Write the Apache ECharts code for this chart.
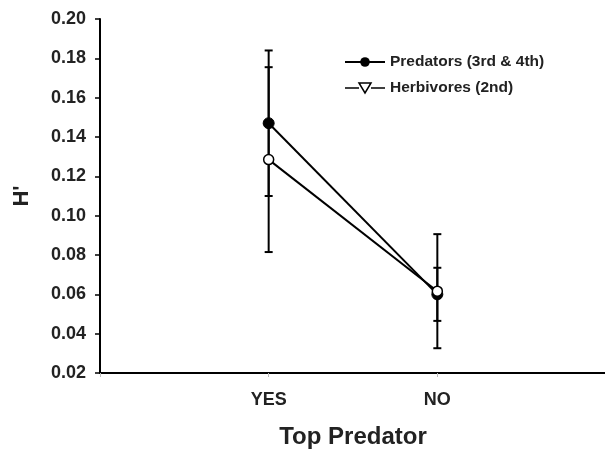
<!DOCTYPE html>
<html>
<head>
<meta charset="utf-8">
<script src="https://cdn.jsdelivr.net/npm/echarts@6/dist/echarts.min.js"></script>
<style>
  html, body { margin: 0; padding: 0; background: #fff; }
  #chart { width: 605px; height: 452px; }
</style>
</head>
<body>
<div id="chart"></div>
<script>
var categories = ['YES', 'NO'];
var yTicks = [0.02, 0.04, 0.06, 0.08, 0.10, 0.12, 0.14, 0.16, 0.18, 0.20];
var predatorMean = [0.147, 0.060];
var predatorErr = [0.037, 0.0135];
var herbivoreMean = [0.1285, 0.0616];
var herbivoreErr = [0.047, 0.029];

var FONT = '"Liberation Sans", Arial, sans-serif';

function points(means) {
    return means.map(function (v, i) { return [i + 1, v]; });
}
function bars(means, errs) {
    return means.map(function (v, i) { return [i + 1, v - errs[i], v + errs[i]]; });
}

// vertical error bar with caps
function renderErr(params, api) {
    var x = api.value(0);
    var lo = api.coord([x, api.value(1)]);
    var hi = api.coord([x, api.value(2)]);
    var cap = 4;
    var style = { stroke: '#000', lineWidth: 2 };
    return {
        type: 'group',
        children: [
            { type: 'line', shape: { x1: lo[0], y1: lo[1], x2: hi[0], y2: hi[1] }, style: style },
            { type: 'line', shape: { x1: lo[0] - cap, y1: lo[1], x2: lo[0] + cap, y2: lo[1] }, style: style },
            { type: 'line', shape: { x1: hi[0] - cap, y1: hi[1], x2: hi[0] + cap, y2: hi[1] }, style: style }
        ]
    };
}

var chart = echarts.init(document.getElementById('chart'));
chart.setOption({
    animation: false,
    grid: { left: 100, right: -1, top: 19, bottom: 79, containLabel: false, outerBoundsMode: 'none' },
    legend: {
        orient: 'vertical',
        left: 339,
        top: 49,
        itemWidth: 40,
        itemHeight: 12,
        itemGap: 10,
        textStyle: { fontFamily: FONT, fontWeight: 'bold', fontSize: 15.5, color: '#222' },
        data: [
            { name: 'Predators (3rd & 4th)' },
            {
                name: 'Herbivores (2nd)',
                icon: 'path://M0,6 L14,6 M26,6 L40,6 M14,1 L26,1 L20,11 Z',
                itemStyle: { color: '#fff', borderColor: '#000', borderWidth: 1.5 }
            }
        ]
    },
    xAxis: {
        type: 'value',
        min: 0,
        max: 3,
        interval: 1,
        splitLine: { show: false },
        axisLine: { lineStyle: { color: '#000', width: 2 } },
        axisTick: { length: 4, lineStyle: { color: '#bbb' } },
        axisLabel: {
            margin: 18,
            fontFamily: FONT, fontWeight: 'bold', fontSize: 18, color: '#222',
            formatter: function (v) { return categories[v - 1] || ''; }
        },
        name: 'Top Predator',
        nameLocation: 'middle',
        nameGap: 52,
        nameTextStyle: { fontFamily: FONT, fontWeight: 'bold', fontSize: 24, color: '#222' }
    },
    yAxis: {
        type: 'value',
        min: yTicks[0],
        max: yTicks[yTicks.length - 1],
        interval: 0.02,
        splitLine: { show: false },
        axisLine: { show: true, lineStyle: { color: '#000', width: 2 } },
        axisTick: { show: true, inside: false, length: 5, lineStyle: { color: '#000', width: 1.5 } },
        axisLabel: {
            margin: 14,
            fontFamily: FONT, fontWeight: 'bold', fontSize: 18, color: '#222',
            formatter: function (v) { return v.toFixed(2); }
        },
        name: "H'",
        nameLocation: 'middle',
        nameGap: 67,
        nameRotate: 90,
        nameTextStyle: { fontFamily: FONT, fontWeight: 'bold', fontSize: 22, color: '#222' }
    },
    series: [
        {
            type: 'custom',
            name: 'errP',
            renderItem: renderErr,
            data: bars(predatorMean, predatorErr),
            z: 1
        },
        {
            type: 'custom',
            name: 'errH',
            renderItem: renderErr,
            data: bars(herbivoreMean, herbivoreErr),
            z: 1
        },
        {
            type: 'line',
            name: 'Predators (3rd & 4th)',
            data: points(predatorMean),
            symbol: 'circle',
            symbolSize: 11,
            lineStyle: { color: '#000', width: 2 },
            itemStyle: { color: '#000', borderColor: '#000' },
            z: 3
        },
        {
            type: 'line',
            name: 'Herbivores (2nd)',
            data: points(herbivoreMean),
            symbol: 'circle',
            symbolSize: 10,
            lineStyle: { color: '#000', width: 2 },
            itemStyle: { color: '#fff', borderColor: '#000', borderWidth: 1.5 },
            z: 4
        }
    ]
});
</script>
</body>
</html>
